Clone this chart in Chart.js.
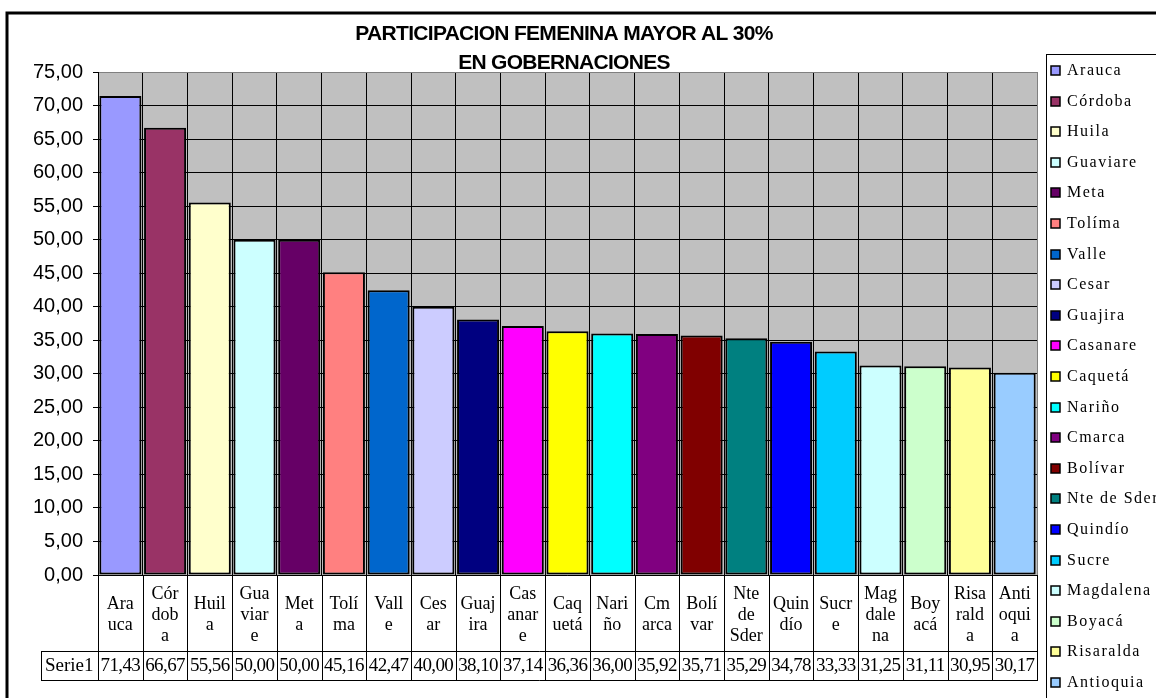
<!DOCTYPE html>
<html>
<head>
<meta charset="utf-8">
<script src="https://cdn.jsdelivr.net/npm/chart.js@4"></script>
<style>
  body { margin: 0; background: #fff; }
  canvas { display: block; }
</style>
</head>
<body>
<canvas id="chart" width="1156" height="698"></canvas>
<script>
// Data
const categories = ["Arauca", "Córdoba", "Huila", "Guaviare", "Meta", "Tolíma", "Valle", "Cesar", "Guajira", "Casanare",
  "Caquetá", "Nariño", "Cmarca", "Bolívar", "Nte de Sder", "Quindío", "Sucre", "Magdalena", "Boyacá", "Risaralda", "Antioquia"];
const tableLabels = ["Ara|uca", "Cór|dob|a", "Huil|a", "Gua|viar|e", "Met|a", "Tolí|ma", "Vall|e", "Ces|ar", "Guaj|ira", "Cas|anar|e",
  "Caq|uetá", "Nari|ño", "Cm|arca", "Bolí|var", "Nte|de|Sder", "Quin|dío", "Sucr|e", "Mag|dale|na", "Boy|acá", "Risa|rald|a", "Anti|oqui|a"];
const seriesName = "Serie1";
const values = [71.43, 66.67, 55.56, 50.00, 50.00, 45.16, 42.47, 40.00, 38.10, 37.14,
  36.36, 36.00, 35.92, 35.71, 35.29, 34.78, 33.33, 31.25, 31.11, 30.95, 30.17];
const barColors = ["#9999FF", "#993366", "#FFFFCC", "#CCFFFF", "#660066", "#FF8080", "#0066CC", "#CCCCFF", "#000080", "#FF00FF",
  "#FFFF00", "#00FFFF", "#800080", "#800000", "#008080", "#0000FF", "#00CCFF", "#CCFFFF", "#CCFFCC", "#FFFF99", "#99CCFF"];
const titleLines = ["PARTICIPACION FEMENINA MAYOR AL 30%", "EN GOBERNACIONES"];

const fmt = v => v.toFixed(2).replace(".", ",");

// Gray plot background + frame, title, data table, legend
const excelLook = {
  id: "excelLook",
  beforeDraw(chart) {
    const { ctx, chartArea: a } = chart;
    ctx.save();
    ctx.fillStyle = "#fff";
    ctx.fillRect(0, 0, chart.width, chart.height);
    ctx.fillStyle = "#C0C0C0";
    ctx.fillRect(a.left, a.top, a.right - a.left, a.bottom - a.top);
    ctx.restore();
  },
  beforeDatasetsDraw(chart) {
    const { ctx, chartArea: a } = chart;
    ctx.save();
    ctx.strokeStyle = "#808080";
    ctx.lineWidth = 1;
    ctx.strokeRect(a.left + 0.5, a.top + 0.5, a.right - a.left, a.bottom - a.top);
    ctx.strokeStyle = "#000";
    ctx.beginPath();
    ctx.moveTo(a.left + 0.5, a.top);
    ctx.lineTo(a.left + 0.5, a.bottom + 0.5);
    ctx.lineTo(a.right, a.bottom + 0.5);
    ctx.stroke();
    ctx.restore();
  },
  afterDraw(chart) {
    const { ctx, chartArea: a } = chart;
    const x = chart.scales.x;
    const half = (a.right - a.left) / categories.length / 2;
    ctx.save();

    // outer chart border
    ctx.strokeStyle = "#000";
    ctx.lineWidth = 3;
    ctx.strokeRect(7, 13, 1200, 720);

    // title
    ctx.fillStyle = "#000";
    ctx.font = "bold 21px 'Liberation Sans', Arial, sans-serif";
    ctx.letterSpacing = "-0.7px";
    ctx.textAlign = "center";
    ctx.textBaseline = "middle";
    ctx.fillText(titleLines[0], 564, 34);
    ctx.fillText(titleLines[1], 564, 63);
    ctx.letterSpacing = "0px";

    // data table
    const rowTop = a.bottom, rowMid = 651, rowBot = 680, tableLeft = 41;
    ctx.lineWidth = 1;
    ctx.strokeStyle = "#000";
    ctx.beginPath();
    for (let i = 0; i <= categories.length; i++) {
      const bx = Math.round(i < categories.length ? x.getPixelForValue(i) - half : x.getPixelForValue(i - 1) + half) + 0.5;
      ctx.moveTo(bx, rowTop);
      ctx.lineTo(bx, rowBot);
    }
    ctx.moveTo(tableLeft + 0.5, rowMid + 0.5);
    ctx.lineTo(a.right + 1, rowMid + 0.5);
    ctx.moveTo(tableLeft + 0.5, rowBot + 0.5);
    ctx.lineTo(a.right + 1, rowBot + 0.5);
    ctx.moveTo(tableLeft + 0.5, rowMid);
    ctx.lineTo(tableLeft + 0.5, rowBot + 1);
    ctx.stroke();

    ctx.font = "18px 'Liberation Serif', 'Times New Roman', serif";
    ctx.textAlign = "center";
    ctx.textBaseline = "middle";
    const lh = 21;
    tableLabels.forEach((lab, i) => {
      const lines = lab.split("|");
      const cx = x.getPixelForValue(i);
      const cy = (rowTop + rowMid) / 2 + 2 - (lines.length - 1) * lh / 2;
      lines.forEach((ln, k) => ctx.fillText(ln, cx, cy + k * lh));
    });
    ctx.font = "19px 'Liberation Serif', 'Times New Roman', serif";
    ctx.letterSpacing = "-0.6px";
    values.forEach((v, i) => {
      ctx.fillText(fmt(v), x.getPixelForValue(i), (rowMid + rowBot) / 2 + 1);
    });
    ctx.letterSpacing = "0px";
    ctx.textAlign = "left";
    ctx.fillText(seriesName, 45, (rowMid + rowBot) / 2 + 1);

    // legend
    ctx.lineWidth = 1;
    ctx.strokeRect(1046.5, 54.5, 300, 700);
    ctx.font = "16px 'Liberation Serif', 'Times New Roman', serif";
    ctx.letterSpacing = "1.5px";
    categories.forEach((c, i) => {
      const cy = Math.round(71 + i * 30.6);
      ctx.fillStyle = barColors[i];
      ctx.fillRect(1051, cy - 5, 9, 9);
      ctx.strokeStyle = "#000";
      ctx.lineWidth = 1.5;
      ctx.strokeRect(1051, cy - 5, 9, 9);
      ctx.fillStyle = "#000";
      ctx.fillText(c, 1067, cy);
    });
    ctx.restore();
  }
};

new Chart(document.getElementById("chart"), {
  type: "bar",
  data: {
    labels: categories,
    datasets: [{
      label: seriesName,
      data: values,
      backgroundColor: barColors,
      borderColor: "#000",
      borderWidth: 2,
      borderSkipped: false,
      barPercentage: 0.94,
      categoryPercentage: 1
    }]
  },
  options: {
    responsive: false,
    animation: false,
    devicePixelRatio: 1,
    layout: { padding: { left: 0, top: 72, right: 119, bottom: 123 } },
    plugins: { legend: { display: false }, title: { display: false }, tooltip: { enabled: false } },
    scales: {
      x: {
        offset: true,
        grid: { display: true, color: "#000", lineWidth: 1, drawTicks: false, offset: true },
        border: { display: false },
        ticks: { display: false },
        afterFit: s => { s.height = 0; }
      },
      y: {
        min: 0,
        max: 75,
        ticks: {
          stepSize: 5,
          padding: 10,
          color: "#000",
          font: { family: "'Liberation Sans', Arial, sans-serif", size: 20 },
          callback: v => fmt(v)
        },
        grid: { color: "#000", lineWidth: 1, tickLength: 5 },
        border: { color: "#000" },
        afterFit: s => { s.width = 98; }
      }
    }
  },
  plugins: [excelLook]
});
</script>
</body>
</html>
